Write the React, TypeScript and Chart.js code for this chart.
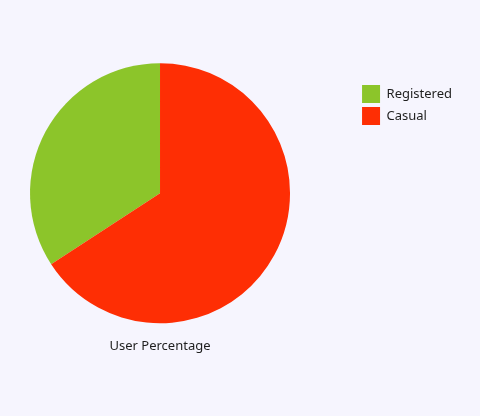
import React, { useEffect, useRef } from "react";
import { Chart, registerables } from "chart.js";

Chart.register(...registerables);

const labels = ["Registered", "Casual"];
const values = [34.2, 65.8];
const colors = ["#8cc52a", "#fe2e04"];
const titleText = "User Percentage";

export default function App() {
  const ref = useRef<HTMLCanvasElement | null>(null);
  useEffect(() => {
    document.body.style.margin = "0";
    const total = values.reduce((a, b) => a + b, 0);
    const chart = new Chart(ref.current as HTMLCanvasElement, {
      type: "pie",
      data: {
        labels,
        datasets: [
          {
            data: values,
            backgroundColor: colors,
            borderWidth: 0,
          },
        ],
      },
      options: {
        animation: false,
        responsive: false,
        rotation: (-360 * values[0]) / total,
        radius: 130,
        layout: { padding: { top: 81, bottom: 62, left: 0, right: 18 } },
        plugins: {
          tooltip: { enabled: false },
          legend: {
            position: "right",
            align: "start",
            labels: {
              boxWidth: 18,
              boxHeight: 18,
              padding: 4,
              color: "#1e1e1e",
              font: { family: "Noto Sans", size: 13 },
            },
          },
          subtitle: {
            display: true,
            text: " ",
            position: "right",
            weight: 500,
            fullSize: false,
            font: { size: 13 },
            padding: { top: 11.2, bottom: 11.2 },
          },
          title: {
            display: true,
            text: titleText,
            position: "bottom",
            fullSize: false,
            color: "#1e1e1e",
            font: { family: "Noto Sans", size: 13, weight: "normal" },
            padding: { top: 33, bottom: 0 },
          },
        },
      },
    });
    return () => chart.destroy();
  }, []);
  return (
    <div style={{ width: 480, height: 416, background: "#f6f5fe" }}>
      <canvas ref={ref} width={480} height={416} style={{ display: "block" }} />
    </div>
  );
}
